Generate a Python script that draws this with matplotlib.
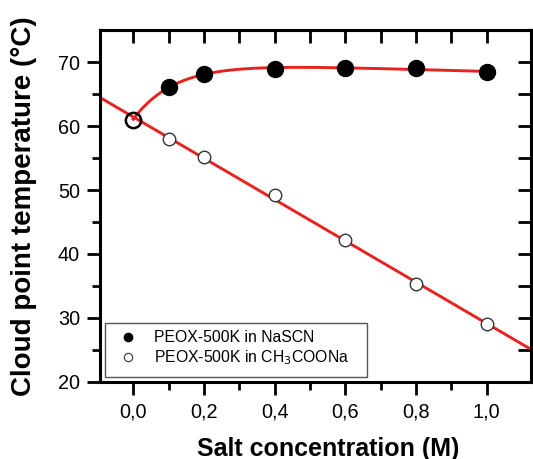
import matplotlib.pyplot as plt
import matplotlib.patches as mpatches
import numpy as np

plt.rcParams['font.family'] = ['Liberation Sans', 'DejaVu Sans']

# data
conc = [0.0, 0.1, 0.2, 0.4, 0.6, 0.8, 1.0]
nascn = [61.0, 66.1, 68.2, 68.9, 69.0, 69.0, 68.5]
acetate = [61.0, 58.0, 55.2, 49.2, 42.2, 35.3, 29.0]

red = '#e8231f'

fig = plt.figure(figsize=(5.33, 4.59), dpi=100)
ax = fig.add_axes([0.1876, 0.1678, 0.8084, 0.7668])

x = np.array(conc)

# fit for NaSCN: plateau with exponential rise
tau = 0.12
A = np.column_stack([np.ones_like(x), x, np.exp(-x / tau)])
coef = np.linalg.lstsq(A, np.array(nascn), rcond=None)[0]
xf = np.linspace(0, 1.0, 200)
yf = coef[0] + coef[1] * xf + coef[2] * np.exp(-xf / tau)
ax.plot(xf, yf, color=red, lw=2.1, zorder=2)

# linear fit for acetate
p = np.polyfit(x, acetate, 1)
xl = np.array([-0.2, 1.3])
ax.plot(xl, np.polyval(p, xl), color=red, lw=2.1, zorder=2)

# markers
ax.plot(x[1:], nascn[1:], 'o', color='black', ms=11.5, zorder=3)
ax.plot(x[:1], nascn[:1], 'o', mfc='none', mec='black', mew=1.8, ms=11, zorder=3)
ax.plot(x[1:], acetate[1:], 'o', mfc='white', mec='#333333', mew=1.0, ms=9, zorder=3)

# legend box drawn separately, legend entries inside it
ax.add_patch(mpatches.Rectangle((0.0116, 0.0142), 0.608, 0.153, transform=ax.transAxes,
                                fill=False, edgecolor='#555555', lw=1.0, zorder=4))
h1, = ax.plot([], [], 'o', color='black', ms=6, label='PEOX-500K in NaSCN')
h2, = ax.plot([], [], 'o', mfc='white', mec='#333333', mew=0.8, ms=6,
              label='PEOX-500K in CH$_3$COONa')
ax.legend(handles=[h1, h2], loc='center left', bbox_to_anchor=(0.046, 0.094),
          fontsize=11.35, frameon=False, handlelength=1.0, handletextpad=1.2,
          borderpad=0, labelspacing=0.2, borderaxespad=0)

ax.set_xlim(-0.094, 1.125)
ax.set_ylim(20, 75)

ax.set_xticks([0.0, 0.2, 0.4, 0.6, 0.8, 1.0])
ax.set_xticklabels(['0,0', '0,2', '0,4', '0,6', '0,8', '1,0'])
ax.set_xticks(np.arange(0.1, 1.1, 0.2), minor=True)
ax.set_yticks([20, 30, 40, 50, 60, 70])
ax.set_yticks([25, 35, 45, 55, 65], minor=True)

ax.tick_params(axis='both', which='major', direction='out', length=9.5, width=2,
               labelsize=14.3, pad=5)
ax.tick_params(axis='both', which='minor', direction='out', length=5.5, width=2)

# mirrored ticks pointing inward on top and right
top = ax.secondary_xaxis('top')
top.set_xticks(np.arange(0.0, 1.01, 0.1))
top.tick_params(direction='in', length=9.5, width=2, labeltop=False)
right = ax.secondary_yaxis('right')
right.set_yticks(np.arange(20, 75, 5))
right.tick_params(direction='in', length=9.5, width=2, labelright=False)

for s in ax.spines.values():
    s.set_linewidth(2.2)
top.spines['top'].set_linewidth(2.2)
right.spines['right'].set_linewidth(2.2)

ax.set_xlabel('Salt concentration (M)', fontsize=18, fontweight='bold')
ax.set_ylabel('Cloud point temperature (°C)', fontsize=20, fontweight='bold')
ax.xaxis.set_label_coords(0.53, -0.155)
ax.yaxis.set_label_coords(-0.146, 0.5)

fig.savefig('out.png', dpi=100)
